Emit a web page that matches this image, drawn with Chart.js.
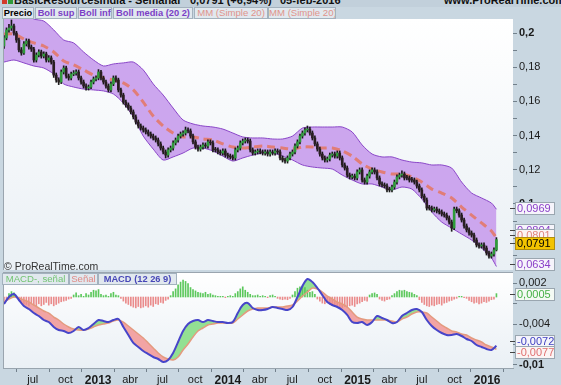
<!DOCTYPE html>
<html lang="es">
<head>
<meta charset="utf-8">
<title>BasicResourcesIndia - Semanal</title>
<script src="https://cdn.jsdelivr.net/npm/chart.js@4.4.1/dist/chart.umd.min.js"></script>
<style>
  html, body { margin:0; padding:0; }
  body { width:561px; height:385px; overflow:hidden; position:relative; background:#c9d7e1; font-family:"Liberation Sans", Arial, sans-serif; }
  #hdr { position:absolute; left:0; top:0; width:561px; height:7px; overflow:hidden; background:#c2d0db; z-index:3; }
  #hdr .t { position:absolute; top:-5px; font-weight:bold; font-size:11px; line-height:11px; color:#111; white-space:nowrap; }
  .ico { position:absolute; top:0; width:5px; height:4px; }
  .lb { position:absolute; box-sizing:border-box; height:12px; line-height:10px; font-size:9.3px; font-weight:bold; border:1px solid #a3b2be; background:#e1e8ee; text-align:center; white-space:nowrap; overflow:hidden; z-index:3; }
  .nb { font-weight:normal; font-size:9.6px; }
  #cv1 { position:absolute; left:0; top:19px; }
  #cv2 { position:absolute; left:0; top:271px; }
  #copy { position:absolute; left:4px; top:260px; font-size:10.5px; line-height:12px; color:#333; z-index:3; }
</style>
</head>
<body>
<div id="hdr">
  <div class="ico" style="left:2px;background:#d23a2a"></div>
  <div class="ico" style="left:8px;background:#2f9a3a"></div>
  <span class="t" style="left:14px">BasicResourcesIndia - Semanal</span>
  <span class="t" style="left:190px">0,0791 (+6,94%)</span>
  <span class="t" style="left:280px">05-feb-2016</span>
  <span class="t" style="left:444px">www.ProRealTime.com</span>
</div>
<div class="lb" style="left:2px;top:7px;width:32px;color:#000">Precio</div>
<div class="lb" style="left:35px;top:7px;width:42px;color:#7b3fc6">Boll sup</div>
<div class="lb" style="left:78px;top:7px;width:34px;color:#7b3fc6">Boll inf</div>
<div class="lb" style="left:113px;top:7px;width:80px;color:#7b3fc6">Boll media (20 2)</div>
<div class="lb nb" style="left:268px;top:7px;width:68px;color:#e0948c">MM (Simple 20)</div>
<div class="lb nb" style="left:194px;top:7px;width:74px;color:#e0948c">MM (Simple 20)</div>

<canvas id="cv1" width="561" height="252"></canvas>
<canvas id="cv2" width="561" height="114"></canvas>

<div id="copy">© ProRealTime.com</div>
<div class="lb nb" style="left:2px;top:273px;width:67px;color:#72c472">MACD-, señal</div>
<div class="lb nb" style="left:69px;top:273px;width:29px;color:#e08a86">Señal</div>
<div class="lb" style="left:98px;top:273px;width:79px;color:#4848b8">MACD (12 26 9)</div>

<script>
// ---------- DATA (prices in thousandths: 197.1 = 0,1971) ----------
const firstWeekDate = '2012-04-11';

const weekOpen = [
192.4,197.1,201.8,202.9,204.1,200.0,195.9,190.1,188.3,193.6,
195.3,191.8,190.6,184.2,187.1,188.9,186.5,187.7,184.2,185.4,
183.0,175.4,172.5,171.3,177.2,179.5,174.8,173.7,176.0,176.6,
177.2,173.7,171.3,169.0,167.8,168.4,171.3,173.1,173.7,177.2,
173.7,171.3,169.0,166.7,170.2,173.7,172.5,166.7,163.7,159.6,
157.9,156.1,153.8,150.9,147.9,145.6,144.4,143.3,142.1,140.9,
139.7,138.6,137.4,135.1,132.7,130.4,128.6,131.6,132.7,135.7,
137.4,139.7,140.9,141.5,143.3,142.7,139.7,136.3,133.3,132.1,
133.3,134.5,133.9,136.3,135.7,131.9,131.6,130.4,129.8,131.0,
128.6,128.0,127.5,126.9,131.6,132.7,135.7,136.8,137.4,136.8,
131.6,129.8,130.4,131.0,130.4,129.8,130.4,129.2,130.4,129.8,
131.0,130.4,126.9,125.7,125.1,126.9,129.2,130.4,133.9,136.3,
139.7,141.5,143.3,143.8,141.5,138.6,135.1,132.1,129.2,126.9,
125.7,126.3,128.6,129.2,128.0,129.8,126.9,122.8,121.0,116.9,
115.8,116.3,115.2,118.7,119.9,114.0,112.8,116.3,118.7,119.9,
118.7,115.2,111.7,111.1,110.5,108.6,108.2,109.9,112.8,115.8,
116.9,117.5,115.6,115.2,114.4,114.0,112.8,110.5,108.2,104.6,
102.3,98.0,97.6,96.5,97.0,95.9,95.3,94.1,93.5,91.8,
89.4,85.9,97.0,96.0,93.5,90.6,87.1,84.8,83.0,81.8,
78.9,76.0,75.4,76.0,74.2,71.3,69.5,70.7,73.1];

const weekHigh = [
198.5,203.0,205.0,207.6,205.2,201.0,197.0,191.5,195.0,196.6,
196.4,193.0,191.6,188.4,190.2,190.0,189.0,188.8,186.8,186.6,
184.0,176.6,173.8,178.4,180.8,180.6,176.0,177.2,178.0,178.4,
178.4,174.8,172.5,170.2,169.6,172.5,174.3,175.0,178.6,178.2,
174.8,172.4,170.2,171.4,174.9,174.9,173.6,167.8,164.8,160.8,
159.1,157.3,155.0,152.1,149.1,146.8,145.6,144.5,143.3,142.1,
140.9,139.8,138.6,136.3,133.9,131.6,132.8,133.9,136.9,138.6,
140.9,142.1,142.7,145.0,144.5,143.9,140.9,137.5,134.5,134.5,
135.7,135.7,137.5,137.5,136.9,133.1,132.8,131.6,132.2,132.2,
129.8,129.2,128.7,132.8,133.9,136.9,138.0,138.6,138.6,138.0,
132.8,131.6,132.2,132.2,131.6,131.6,131.6,131.6,131.6,132.2,
132.2,131.6,128.1,126.9,128.1,130.4,131.6,135.1,137.5,140.9,
142.7,144.5,145.6,145.0,142.7,139.8,136.3,133.3,130.4,128.1,
127.5,129.8,130.4,130.4,131.0,131.0,128.1,124.0,122.2,118.1,
117.5,117.5,119.9,121.1,121.1,115.2,117.5,119.9,121.1,121.1,
119.9,116.4,112.9,112.3,111.7,109.8,111.1,114.0,117.0,118.1,
119.3,118.7,116.8,116.4,115.6,115.2,114.0,111.7,109.4,105.8,
103.5,99.2,98.8,98.2,98.2,97.1,96.5,95.3,94.7,93.0,
90.6,98.2,98.2,97.2,94.7,91.8,88.3,86.0,84.2,83.0,
80.1,77.2,77.2,77.2,75.4,72.5,71.9,74.3,80.3];

const weekLow = [
191.0,196.0,200.5,201.5,198.8,194.5,189.0,187.0,187.5,192.4,
190.6,189.2,183.0,183.0,186.0,185.3,185.4,183.0,183.0,181.8,
174.0,171.2,169.8,170.4,176.0,173.6,172.4,172.6,175.0,175.4,
172.5,170.0,167.8,166.5,166.6,167.4,170.2,172.0,172.6,172.5,
170.1,167.8,165.5,165.6,169.2,171.3,165.5,162.4,158.4,156.6,
154.9,152.6,149.7,146.7,144.4,143.2,142.0,140.9,139.7,138.5,
137.4,136.2,133.9,131.5,129.2,126.9,127.4,130.4,131.5,134.5,
136.2,138.5,139.7,140.3,141.5,138.5,135.1,132.1,130.9,130.9,
132.1,132.7,132.7,134.5,130.4,130.4,129.2,128.6,128.6,127.4,
126.8,126.3,125.7,125.7,130.4,131.5,134.5,135.6,135.6,130.4,
128.6,128.6,129.2,129.2,128.6,128.6,128.0,128.0,128.6,128.6,
129.2,125.7,124.5,123.9,123.9,125.7,128.0,129.2,132.7,135.1,
138.5,140.3,142.1,140.3,137.4,133.9,130.9,128.0,125.7,124.5,
124.5,125.1,127.4,126.8,126.8,125.7,121.6,119.8,115.7,114.6,
114.6,114.0,114.0,117.5,112.8,111.6,111.6,115.1,117.5,117.5,
114.0,110.5,109.9,109.3,107.0,107.0,107.0,108.7,111.6,114.6,
115.7,114.0,114.0,112.8,112.8,111.6,109.3,107.0,103.4,101.1,
96.4,96.4,95.3,95.3,94.7,94.1,92.9,92.3,90.6,88.2,
84.0,85.0,94.8,92.3,89.4,85.9,83.6,81.8,80.6,77.7,
74.8,74.2,74.2,73.0,70.1,68.3,68.3,69.5,72.5];

const weekClose = [
197.1,201.8,202.9,204.1,200.0,195.9,190.1,188.3,193.6,195.3,
191.8,190.6,184.2,187.1,188.9,186.5,187.7,184.2,185.4,183.0,
175.4,172.5,171.3,177.2,179.5,174.8,173.7,176.0,176.6,177.2,
173.7,171.3,169.0,167.8,168.4,171.3,173.1,173.7,177.2,173.7,
171.3,169.0,166.7,170.2,173.7,172.5,166.7,163.7,159.6,157.9,
156.1,153.8,150.9,147.9,145.6,144.4,143.3,142.1,140.9,139.7,
138.6,137.4,135.1,132.7,130.4,128.6,131.6,132.7,135.7,137.4,
139.7,140.9,141.5,143.3,142.7,139.7,136.3,133.3,132.1,133.3,
134.5,133.9,136.3,135.7,131.6,131.6,130.4,129.8,131.0,128.6,
128.0,127.5,126.9,131.6,132.7,135.7,136.8,137.4,136.8,131.6,
129.8,130.4,131.0,130.4,129.8,130.4,129.2,130.4,129.8,131.0,
130.4,126.9,125.7,125.1,126.9,129.2,130.4,133.9,136.3,139.7,
141.5,143.3,143.8,141.5,138.6,135.1,132.1,129.2,126.9,125.7,
126.3,128.6,129.2,128.0,129.8,126.9,122.8,121.0,116.9,115.8,
116.3,115.2,118.7,119.9,114.0,112.8,116.3,118.7,119.9,118.7,
115.2,111.7,111.1,110.5,108.2,108.2,109.9,112.8,115.8,116.9,
117.5,115.2,115.2,114.0,114.0,112.8,110.5,108.2,104.6,102.3,
97.6,97.6,96.5,97.0,95.9,95.3,94.1,93.5,91.8,89.4,
85.9,97.0,96.0,93.5,90.6,87.1,84.8,83.0,81.8,78.9,
76.0,75.4,76.0,74.2,71.3,69.5,70.7,73.1,79.1];

const bandWeeks = [0,4,8,12,16,20,24,28,32,36,40,44,48,52,56,60,64,68,72,76,80,84,88,92,96,
  100,104,108,112,116,120,124,128,132,136,140,144,148,152,156,160,164,168,172,176,180,184,188,192,196,198];
const bollUpper = [
214.6,214.6,212.3,208.2,207.0,201.8,195.9,194.2,188.9,184.2,
180.7,181.9,182.5,183.0,178.4,170.2,163.7,156.1,149.1,146.8,
145.6,145.0,143.8,141.5,139.2,138.6,138.6,138.0,138.0,139.7,
144.4,145.0,145.0,145.0,145.0,142.1,134.5,129.2,127.5,127.5,
125.7,124.5,124.0,122.8,122.8,121.0,112.8,106.4,103.5,100.5,
96.9];
const bollMid = [
199.4,199.4,196.5,194.2,192.4,188.9,183.6,181.3,178.4,175.4,
173.7,172.5,170.8,166.7,159.6,151.4,145.6,141.5,139.2,139.2,
138.0,137.4,135.1,133.3,132.7,133.3,133.9,133.3,132.7,132.1,
133.3,133.3,132.7,132.7,131.0,128.0,123.4,120.4,118.7,117.5,
117.5,115.8,112.8,108.7,106.4,103.5,98.2,93.5,88.9,84.2,
80.1];
const bollLower = [
183.0,184.2,182.5,180.7,179.5,176.0,170.2,168.4,167.2,166.7,
166.1,164.3,159.0,150.9,139.7,132.1,125.7,127.5,129.8,132.7,
132.7,131.0,128.0,125.1,126.9,128.6,129.8,129.8,128.0,125.7,
122.8,121.6,121.0,120.4,116.9,114.0,111.7,111.7,109.9,108.2,
109.9,108.7,102.9,95.3,89.4,85.9,82.4,78.9,74.2,68.4,
63.4];

// MACD values in thousandths (-7.2 = -0,0072)
const macdWeeks = [0,2,4,6,8,10,12,14,16,18,20,22,24,26,28,30,32,34,36,38,40,42,44,46,48,
  50,52,54,56,58,60,62,64,66,68,70,72,74,76,78,80,82,84,86,88,90,92,94,96,98,
  100,102,104,106,108,110,112,114,116,118,120,122,124,126,128,130,132,134,136,138,
  140,142,144,146,148,150,152,154,156,158,160,162,164,166,168,170,172,174,176,178,
  180,182,184,186,188,190,192,194,196,198];
const macdLine = [
-1.03,0,0.44,-0.44,-1.33,-1.77,-2.36,-2.80,-3.39,-3.69,
-4.42,-4.87,-5.01,-5.31,-5.01,-4.42,-4.87,-4.57,-3.98,-3.39,
-3.54,-3.69,-3.39,-3.24,-4.42,-5.60,-6.78,-7.37,-7.96,-8.41,
-8.85,-9.14,-9.59,-9.29,-8.26,-6.64,-5.01,-3.98,-3.54,-3.39,
-3.69,-3.39,-3.54,-3.69,-3.69,-3.83,-3.69,-2.36,-1.18,-0.88,
-1.62,-1.92,-1.92,-1.77,-1.47,-1.62,-1.77,-1.92,-1.47,0,
1.62,2.65,2.21,1.33,0.29,-0.74,-1.18,-1.47,-1.92,-2.65,
-3.69,-3.83,-3.69,-4.13,-3.69,-2.80,-3.10,-3.39,-3.83,-3.69,
-2.80,-2.36,-1.92,-1.77,-2.21,-3.39,-4.28,-4.87,-5.31,-5.60,
-5.60,-5.46,-5.75,-6.19,-6.49,-7.08,-7.37,-7.67,-7.82,-7.20];
const macdSignal = [
-0.74,-0.29,0,-0.15,-0.44,-0.74,-1.18,-1.62,-2.06,-2.36,
-2.95,-3.39,-3.98,-4.42,-4.72,-4.87,-4.87,-4.72,-4.42,-4.13,
-3.98,-3.83,-3.54,-3.39,-3.69,-4.28,-4.87,-5.46,-6.05,-6.78,
-7.52,-8.26,-8.85,-9.14,-9.29,-8.85,-7.82,-6.93,-5.90,-5.01,
-4.57,-4.13,-3.98,-3.83,-3.83,-3.83,-3.83,-3.24,-2.65,-2.06,
-1.77,-1.62,-1.62,-1.62,-1.47,-1.47,-1.47,-1.33,-1.18,-0.59,
0.15,0.74,1.33,1.18,0.74,0.15,-0.29,-0.74,-1.03,-1.47,
-2.21,-2.95,-3.24,-3.39,-3.39,-3.39,-3.39,-3.39,-3.54,-3.69,
-3.24,-2.95,-2.51,-2.21,-2.21,-2.36,-2.95,-3.54,-4.13,-4.57,
-5.01,-5.16,-5.46,-5.60,-6.05,-6.34,-6.64,-7.08,-7.37,-7.70];
const macdHist = [
-0.7,-0.5,
0.5,0.8,0.6,
0.1,
-0.5,-0.9,-1.0,
-1.1,-1.3,-0.9,-1.2,-1.4,-1.0,-1.3,-1.1,-0.8,-1.2,-1.0,-1.3,-1.1,-0.9,-0.7,-0.6,-0.5,-0.3,-0.2,
0.3,0.6,0.2,0.4,0.1,0.5,0.3,
0.7,1.0,0.9,1.1,0.4,0.2,
0.3,0.1,0.5,0.7,0.3,0.2,-0.2,
-0.6,-0.9,-1.1,-1.3,-1.5,-1.6,-1.4,-1.6,-1.5,-1.3,-1.5,-1.2,-1.4,-1.0,-1.1,-0.8,-0.9,-0.5,-0.3,0.2,
0.8,1.2,1.8,2.2,2.5,2.3,2.0,1.4,1.1,0.9,0.7,
0.6,0.5,0.7,0.4,0.5,0.3,0.2,0.1,0.1,
0.1,-0.1,0.1,0.2,0.1,
0.5,0.8,1.2,1.5,1.0,0.7,0.4,0.2,
0.2,0.3,0.1,0.2,0.1,-0.1,0.2,0.3,0.1,-0.2,
-0.3,-0.4,-0.3,-0.4,-0.2,
0.3,0.8,1.3,1.5,1.6,1.4,1.0,0.7,0.8,0.4,
-0.3,-0.6,-0.9,-1.0,-0.8,-1.1,-1.2,-1.4,-1.3,-1.5,-1.6,-1.4,-1.5,-1.3,-1.2,-1.4,-1.0,-0.9,-0.7,-0.5,-0.6,
0.3,0.5,0.6,0.4,
-0.3,-0.5,-0.6,-0.4,-0.3,
0.2,0.5,0.8,1.0,0.9,1.0,0.8,0.7,0.6,0.4,0.2,
-0.4,-0.8,-1.1,-1.3,-1.4,-1.2,-1.3,-1.1,-1.0,-1.2,-0.9,-0.8,-0.6,-0.5,-0.3,-0.2,0.1,
0.1,-0.1,-0.2,
-0.5,-0.7,-0.9,-0.8,-1.0,-0.9,-0.7,-0.8,-0.6,-0.4,-0.3,
0.5];

const tickDates = ['2012-07-01','2012-10-01','2013-01-01','2013-04-01','2013-07-01','2013-10-01','2014-01-01',
  '2014-04-01','2014-07-01','2014-10-01','2015-01-01','2015-04-01','2015-07-01','2015-10-01','2016-01-01'];
const tickLabels = ['jul','oct','2013','abr','jul','oct','2014','abr','jul','oct','2015','abr','jul','oct','2016'];

const priceBoxes = [
  {value:96.9, dy:-1, text:'0,0969', color:'#8a3fc8', bg:'#f6f4fb', border:'#9aa6b0'},
  {value:80.4, dy:-7, text:'0,0804', color:'#8a3fc8', bg:'#f6f4fb', border:'#9aa6b0'},
  {value:80.1, dy:-3, text:'0,0801', color:'#e0847c', bg:'#fbf4f4', border:'#9aa6b0'},
  {value:79.1, dy:3,  text:'0,0791', color:'#000000', bg:'#f3c300', border:'#b08e10'},
  {value:63.4, dy:-3, text:'0,0634', color:'#8a3fc8', bg:'#f6f4fb', border:'#9aa6b0'}
];
const macdBoxes = [
  {value:0.5,  dy:0,  text:'0,0005',  color:'#45b045', bg:'#f4faf4', border:'#9aa6b0'},
  {value:-7.2, dy:-5, text:'-0,0072', color:'#4040c0', bg:'#f4f4fb', border:'#9aa6b0'},
  {value:-7.7, dy:2.5,text:'-0,0077', color:'#e07070', bg:'#fbf4f4', border:'#9aa6b0'}
];

// ---------- CHARTS ----------
const FONT = '"Liberation Sans", Arial, sans-serif';
Chart.defaults.font.family = FONT;
Chart.defaults.font.size = 11;
Chart.defaults.color = '#1a1a1a';

const X_MIN = -0.4, X_MAX = 204.66;
const DAY = 864e5;
const weekOf = d => (Date.parse(d) - Date.parse(firstWeekDate)) / (7 * DAY);
const fmt = v => String(+(v / 1000).toFixed(5)).replace('.', ',');

function plotBg(id, borders) {
  return {
    id,
    beforeDraw(chart) {
      const {ctx, chartArea: a} = chart;
      const g = ctx.createLinearGradient(0, a.top, 0, a.bottom);
      g.addColorStop(0, '#ffffff');
      g.addColorStop(1, '#eaf0f5');
      ctx.save();
      ctx.fillStyle = g;
      ctx.fillRect(a.left, a.top, a.right - a.left, a.bottom - a.top);
      ctx.restore();
    },
    afterDraw(chart) {
      const {ctx, chartArea: a} = chart;
      ctx.save();
      ctx.strokeStyle = '#9aa5af';
      ctx.lineWidth = 1;
      ctx.beginPath();
      ctx.moveTo(a.left + 0.5, a.top); ctx.lineTo(a.left + 0.5, a.bottom);
      if (borders) {
        ctx.moveTo(a.left, a.top + 0.5); ctx.lineTo(a.right, a.top + 0.5);
      }
      ctx.stroke();
      ctx.restore();
    }
  };
}

function valueBoxes(id, boxes) {
  return {
    id,
    afterDraw(chart) {
      const {ctx, chartArea: a} = chart;
      const ys = chart.scales.y;
      ctx.save();
      ctx.font = '11px ' + FONT;
      ctx.textBaseline = 'middle';
      boxes.forEach(b => {
        const y = Math.round(ys.getPixelForValue(b.value) + b.dy) + 0.5;
        ctx.strokeStyle = '#444';
        ctx.beginPath(); ctx.moveTo(a.right - 3, y); ctx.lineTo(a.right + 2, y); ctx.stroke();
        ctx.fillStyle = b.bg;
        ctx.fillRect(a.right + 2, y - 6.5, 40, 13);
        ctx.strokeStyle = b.border;
        ctx.strokeRect(a.right + 2.5, y - 6, 39, 12);
        ctx.fillStyle = b.color;
        ctx.fillText(b.text, a.right + 4, y + 0.5);
      });
      ctx.restore();
    }
  };
}

const yFit = s => { s.width = 48; s.paddingTop = 0; s.paddingBottom = 0; };

// Price chart
const wicks = weekClose.map((c, i) => ({x: i, y: [weekLow[i], weekHigh[i]]}));
const bodies = weekClose.map((c, i) => ({x: i, y: [weekOpen[i], c]}));
const bodyColors = weekClose.map((c, i) => c >= weekOpen[i] ? '#2f9a3a' : '#2a1e22');

new Chart(document.getElementById('cv1'), {
  type: 'bar',
  data: {
    datasets: [
      {type: 'line', label: 'Boll sup', data: bandWeeks.map((w, k) => ({x: w, y: bollUpper[k]})),
        borderColor: '#8a46c8', borderWidth: 1, pointRadius: 0, tension: 0.25,
        fill: '+1', backgroundColor: '#cca6ee', order: 10},
      {type: 'line', label: 'Boll inf', data: bandWeeks.map((w, k) => ({x: w, y: bollLower[k]})),
        borderColor: '#8a46c8', borderWidth: 1, pointRadius: 0, tension: 0.25, fill: false, order: 9},
      {type: 'line', label: 'MM (Simple 20)', data: bandWeeks.map((w, k) => ({x: w, y: bollMid[k]})),
        borderColor: 'rgba(228,118,98,0.85)', borderWidth: 3, borderDash: [8, 5], pointRadius: 0,
        tension: 0.25, fill: false, order: 3},
      {type: 'bar', label: 'wick', data: wicks, backgroundColor: '#1a1a1a', barThickness: 1,
        grouped: false, order: 2},
      {type: 'bar', label: 'Precio', data: bodies, backgroundColor: bodyColors,
        borderWidth: 0, barThickness: 2, grouped: false, minBarLength: 1, order: 1}
    ]
  },
  options: {
    responsive: false, animation: false, events: [],
    layout: {padding: {left: 3, right: 0, top: 0, bottom: 1}},
    plugins: {legend: {display: false}, tooltip: {enabled: false}, filler: {drawTime: 'beforeDatasetsDraw'}},
    scales: {
      x: {type: 'linear', display: false, min: X_MIN, max: X_MAX, offset: false},
      y: {
        type: 'linear', position: 'right', min: 61.36, max: 208.19,
        afterBuildTicks: s => { const t = []; for (let v = 70; v <= 200; v += 10) t.push({value: v}); s.ticks = t; },
        afterFit: yFit,
        border: {display: false},
        grid: {drawOnChartArea: false, drawTicks: true, tickLength: 4, tickColor: '#72808b', tickWidth: 1},
        ticks: {
          padding: 2, color: '#1a1a1a',
          callback: v => (v % 20 === 0) ? fmt(v) : '',
          font: ctx => ({size: 11, weight: (ctx.tick && (ctx.tick.value === 200 || ctx.tick.value === 100)) ? 'bold' : 'normal'})
        }
      }
    }
  },
  plugins: [plotBg('bg1', false), valueBoxes('vb1', priceBoxes)]
});

// MACD chart
new Chart(document.getElementById('cv2'), {
  type: 'bar',
  data: {
    datasets: [
      {type: 'line', label: 'MACD (12 26 9)', data: macdWeeks.map((w, k) => ({x: w, y: macdLine[k]})),
        borderColor: '#4745c9', borderWidth: 2, pointRadius: 0, tension: 0.3,
        fill: {target: '+1', above: '#93e093', below: '#f2a4a4'}, order: 1},
      {type: 'line', label: 'Señal', data: macdWeeks.map((w, k) => ({x: w, y: macdSignal[k]})),
        borderColor: '#e49a7e', borderWidth: 1.5, pointRadius: 0, tension: 0.3, fill: false, order: 3},
      {type: 'bar', label: 'MACD-, señal', data: macdHist.map((h, i) => ({x: i, y: h})),
        backgroundColor: macdHist.map(h => h >= 0 ? '#5cc85c' : '#ea8c8c'),
        barThickness: 1, grouped: false, order: 8}
    ]
  },
  options: {
    responsive: false, animation: false, events: [],
    layout: {padding: {left: 3, right: 0, top: 1, bottom: 0}},
    plugins: {legend: {display: false}, tooltip: {enabled: false}, filler: {drawTime: 'beforeDatasetsDraw'}},
    scales: {
      x: {
        type: 'linear', position: 'bottom', min: X_MIN, max: X_MAX, offset: false,
        afterBuildTicks: s => { s.ticks = tickDates.map(d => ({value: weekOf(d)})); },
        afterFit: s => { s.height = 17; s.paddingLeft = 0; s.paddingRight = 0; },
        border: {display: true, color: '#98a4ae'},
        grid: {drawOnChartArea: false, drawTicks: true, tickLength: 4, tickColor: '#72808b', tickWidth: 1},
        ticks: {
          autoSkip: false, maxRotation: 0, padding: 1, color: '#1a1a1a',
          callback: (v, i) => tickLabels[i],
          font: ctx => /^\d{4}$/.test(tickLabels[ctx.index]) ? {size: 12, weight: 'bold'} : {size: 11, weight: 'normal'}
        }
      },
      y: {
        type: 'linear', position: 'right', min: -10.47, max: 3.69,
        afterBuildTicks: s => { const t = []; for (let v = -10; v <= 3; v += 1) t.push({value: v}); s.ticks = t; },
        afterFit: yFit,
        border: {display: false},
        grid: {
          drawOnChartArea: true, drawTicks: true, tickLength: 4, tickColor: '#72808b', tickWidth: 1,
          color: ctx => (ctx.tick && ctx.tick.value === 0) ? '#4d55c8' : 'rgba(0,0,0,0)',
          lineWidth: ctx => (ctx.tick && ctx.tick.value === 0) ? 1.5 : 1
        },
        ticks: {
          padding: 2, color: '#1a1a1a',
          callback: v => (v % 2 === 0) ? fmt(v) : '',
          font: ctx => ({size: 11, weight: (ctx.tick && (ctx.tick.value === -10 || ctx.tick.value === 0)) ? 'bold' : 'normal'})
        }
      }
    }
  },
  plugins: [plotBg('bg2', true), valueBoxes('vb2', macdBoxes)]
});
</script>
</body>
</html>
